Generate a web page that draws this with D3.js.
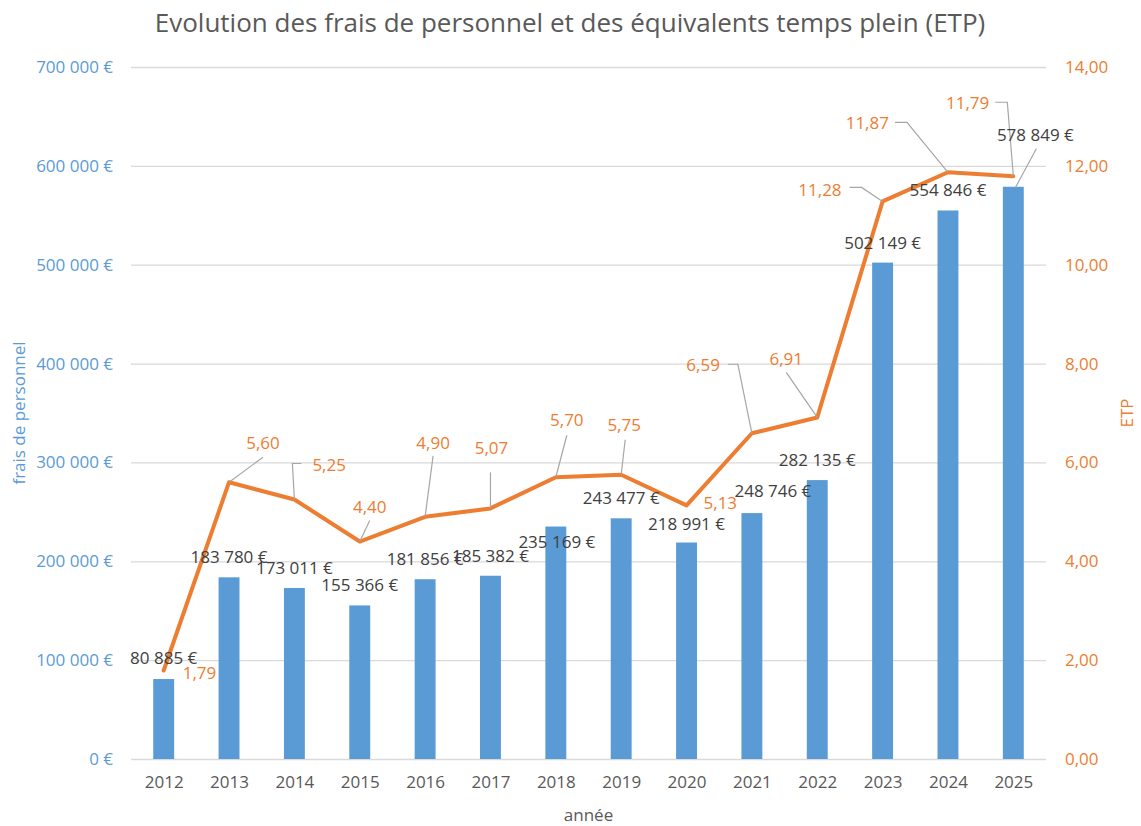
<!DOCTYPE html>
<html>
<head>
<meta charset="utf-8">
<script src="https://cdn.jsdelivr.net/npm/d3@7"></script>
<style>
  body { margin: 0; background: #fff; }
  svg text { font-family: "Open Sans", Lato, sans-serif; }
</style>
</head>
<body>
<div id="chart"></div>
<script>
// donnees
var annees = ["2012", "2013", "2014", "2015", "2016", "2017", "2018", "2019", "2020", "2021", "2022", "2023", "2024", "2025"];
var frais = [80885, 183780, 173011, 155366, 181856, 185382, 235169, 243477, 218991, 248746, 282135, 502149, 554846, 578849];
var etp = [1.79, 5.60, 5.25, 4.40, 4.90, 5.07, 5.70, 5.75, 5.13, 6.59, 6.91, 11.28, 11.87, 11.79];
var ticksFrais = [0, 100000, 200000, 300000, 400000, 500000, 600000, 700000];
var ticksEtp = [0, 2, 4, 6, 8, 10, 12, 14];

// placement des etiquettes (decalages en px, comme dans le graphique d'origine)
var decalFrais = [[0,-1],[0,0],[0,0],[0,0],[0,0],[0,0],[1,36],[0,0],[0,2],[21,-2],[0,0],[0,0],[0,0],[22,-32]];
var etiqEtp = [
  {dx: 19, dy: 3, anchor: "start", leader: null},
  {dx: 34, dy: -39, anchor: "middle", leader: [[34,-25]]},
  {dx: 18, dy: -34, anchor: "start", leader: [[-2,-36],[7,-36]]},
  {dx: 10, dy: -34, anchor: "middle", leader: [[10,-21]]},
  {dx: 8, dy: -74, anchor: "middle", leader: [[8,-61]]},
  {dx: 1, dy: -60, anchor: "middle", leader: [[0,-36]]},
  {dx: 11, dy: -57, anchor: "middle", leader: [[11,-42]]},
  {dx: 3, dy: -50, anchor: "middle", leader: [[4,-35]]},
  {dx: 17, dy: -2, anchor: "start", leader: null},
  {dx: -32, dy: -68, anchor: "end", leader: [[-14,-69],[-24,-69]]},
  {dx: -31, dy: -58, anchor: "middle", leader: [[-31,-45]]},
  {dx: -41, dy: -11, anchor: "end", leader: [[-21,-14],[-33,-14]]},
  {dx: -59, dy: -49, anchor: "end", leader: [[-41,-50],[-53,-50]]},
  {dx: -24, dy: -73, anchor: "end", leader: [[-6,-74],[-18,-74]]}
];

var W = 1141, H = 826;
var margin = {top: 67, right: 95, bottom: 67, left: 131};
var bleu = "#5B9BD5", orange = "#ED7D31", gris = "#595959";
var taille = "17px";

var fr = d3.formatLocale({decimal: ",", thousands: "\u00a0", grouping: [3], currency: ["", "\u00a0€"]});
var fmtEuro = function(v) { return fr.format(",")(v) + "\u00a0€"; };
var fmtEtp = fr.format(",.2f");

var svg = d3.select("#chart").append("svg")
    .attr("width", W)
    .attr("height", H);

var x = d3.scalePoint().domain(annees).range([margin.left, W - margin.right]).padding(0.5);
var y = d3.scaleLinear().domain([0, 700000]).range([H - margin.bottom, margin.top]);
var y2 = d3.scaleLinear().domain([0, 14]).range([H - margin.bottom, margin.top]);
var largeurBarre = x.step() * 0.32;

// points ETP avec leur index
var pointsEtp = etp.map((v, i) => ({v: v, i: i, px: x(annees[i]), py: y2(v)}));
var barres = frais.map((v, i) => ({v: v, i: i, px: x(annees[i]), py: y(v)}));

// grille
svg.append("g").selectAll("line")
    .data(ticksFrais)
    .enter().append("line")
    .attr("x1", margin.left)
    .attr("x2", W - margin.right)
    .attr("y1", d => y(d) + 0.5)
    .attr("y2", d => y(d) + 0.5)
    .attr("stroke", "#d9d9d9")
    .attr("stroke-width", 1.3);

// axe gauche
var axeG = svg.append("g")
    .attr("transform", "translate(" + margin.left + ",0)")
    .call(d3.axisLeft(y).tickValues(ticksFrais).tickFormat(fmtEuro).tickSize(0).tickPadding(18));
axeG.select(".domain").remove();
axeG.selectAll("text").attr("fill", bleu).style("font-size", taille);

// axe droit
var axeD = svg.append("g")
    .attr("transform", "translate(" + (W - margin.right) + ",0)")
    .call(d3.axisRight(y2).tickValues(ticksEtp).tickFormat(fmtEtp).tickSize(0).tickPadding(19));
axeD.select(".domain").remove();
axeD.selectAll("text").attr("fill", orange).style("font-size", taille);

// axe x
var axeX = svg.append("g")
    .attr("transform", "translate(0," + (H - margin.bottom) + ")")
    .call(d3.axisBottom(x).tickSize(0).tickPadding(17));
axeX.select(".domain").remove();
axeX.selectAll("text").attr("fill", gris).style("font-size", taille);

// barres
svg.append("g").selectAll("rect")
    .data(barres)
    .enter().append("rect")
    .attr("x", d => d.px - largeurBarre / 2)
    .attr("width", largeurBarre)
    .attr("y", d => d.py)
    .attr("height", d => y(0) - d.py)
    .attr("fill", bleu);

// ligne ETP
var ligne = d3.line()
    .x(d => d.px)
    .y(d => d.py);
svg.append("path")
    .datum(pointsEtp)
    .attr("d", ligne)
    .attr("fill", "none")
    .attr("stroke", orange)
    .attr("stroke-width", 4)
    .attr("stroke-linejoin", "round")
    .attr("stroke-linecap", "round");

// lignes de rappel ETP
svg.append("g").selectAll("path")
    .data(pointsEtp.filter(d => etiqEtp[d.i].leader))
    .enter().append("path")
    .attr("d", function(d) {
        var pts = [[d.px, d.py]].concat(etiqEtp[d.i].leader.map(p => [d.px + p[0], d.py + p[1]]));
        return d3.line()(pts);
    })
    .attr("fill", "none")
    .attr("stroke", "#a6a6a6")
    .attr("stroke-width", 1.2);

// rappel de l'etiquette 2025 (frais)
svg.append("g").selectAll("line")
    .data(barres.filter(d => decalFrais[d.i][1] < -10))
    .enter().append("line")
    .attr("x1", d => d.px + 2)
    .attr("y1", d => d.py + 1)
    .attr("x2", d => d.px + 23)
    .attr("y2", d => d.py - 38)
    .attr("stroke", "#a6a6a6")
    .attr("stroke-width", 1.2);

// etiquettes frais
svg.append("g").selectAll("text")
    .data(barres)
    .enter().append("text")
    .attr("x", d => d.px + decalFrais[d.i][0])
    .attr("y", d => d.py - 20 + decalFrais[d.i][1])
    .attr("dy", "0.35em")
    .attr("text-anchor", "middle")
    .attr("fill", "#404040")
    .style("font-size", taille)
    .text(d => fmtEuro(d.v));

// etiquettes ETP
svg.append("g").selectAll("text")
    .data(pointsEtp)
    .enter().append("text")
    .attr("x", d => d.px + etiqEtp[d.i].dx)
    .attr("y", d => d.py + etiqEtp[d.i].dy)
    .attr("dy", "0.35em")
    .attr("text-anchor", d => etiqEtp[d.i].anchor)
    .attr("fill", orange)
    .style("font-size", taille)
    .text(d => fmtEtp(d.v));

// titres
svg.append("text")
    .attr("x", 570)
    .attr("y", 23)
    .attr("dy", "0.35em")
    .attr("text-anchor", "middle")
    .attr("fill", gris)
    .style("font-size", "26px")
    .text("Evolution des frais de personnel et des équivalents temps plein (ETP)");

svg.append("text")
    .attr("transform", "translate(19," + ((margin.top + H - margin.bottom) / 2) + ") rotate(-90)")
    .attr("dy", "0.35em")
    .attr("text-anchor", "middle")
    .attr("fill", bleu)
    .style("font-size", taille)
    .text("frais de personnel");

svg.append("text")
    .attr("transform", "translate(1127," + ((margin.top + H - margin.bottom) / 2) + ") rotate(-90)")
    .attr("dy", "0.35em")
    .attr("text-anchor", "middle")
    .attr("fill", orange)
    .style("font-size", taille)
    .text("ETP");

svg.append("text")
    .attr("x", (margin.left + W - margin.right) / 2)
    .attr("y", 815)
    .attr("dy", "0.35em")
    .attr("text-anchor", "middle")
    .attr("fill", gris)
    .style("font-size", taille)
    .text("année");
</script>
</body>
</html>
